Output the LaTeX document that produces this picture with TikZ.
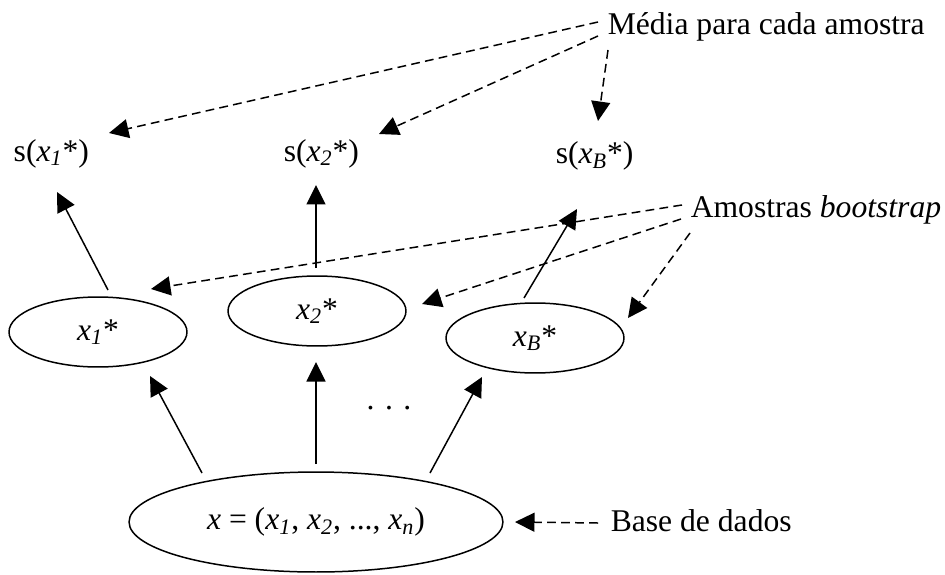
\documentclass[tikz,border=0pt]{standalone}
\usepackage{fontspec}
\setmainfont{Liberation Serif}
\usetikzlibrary{positioning}
\usetikzlibrary{calc, shapes.geometric}
\usetikzlibrary{arrows.meta}

\newcommand{\xsub}[1]{\textit{x}\textsubscript{\textit{#1}}}

\begin{document}
\begin{tikzpicture}[
        x = 0.02cm, y = -0.02cm, % one unit per pixel, y going down
        > = {Triangle[length=0.39cm, width=0.38cm]}, % arrow head style
        line width = 0.85pt, % line style
        font = \fontsize{18}{22}\selectfont,
        every node/.style = {inner sep=0pt},
        sample/.style = {draw, ellipse, minimum width=3.56cm, minimum height=1.4cm},
        hint/.style = {->, dash pattern=on 5pt off 3pt}
        ]

  \useasboundingbox (0,0) rectangle (945,574);

  \node[sample, minimum width=7.48cm, minimum height=2cm] (base) at (316,522) {\textit{x} = (\xsub{1}, \xsub{2}, ..., \xsub{n})};
  \node[sample] (x1) at (98,332) {\xsub{1}*};
  \node[sample] (x2) at (317,311) {\xsub{2}*};
  \node[sample] (xB) at (535,338) {\xsub{B}*};
  \node (dots) at (389,408) {. . .};

  \node[anchor=base west] (s1) at (13,161) {s(\xsub{1}*)};
  \node[anchor=base west] (s2) at (283,161) {s(\xsub{2}*)};
  \node[anchor=base west] (sB) at (555,164) {s(\xsub{B}*)};

  \node[anchor=base west] (media) at (607,35) {Média para cada amostra};
  \node[anchor=base west] (amostras) at (690,217) {Amostras \textit{bootstrap}};
  \node[anchor=base west] (dados) at (610,531) {Base de dados};

  % resampling
  \draw[->] ($(base)+(-114,-49)$) -- ($(x1)+(52,44)$);
  \draw[->] ($(base)+(0,-58)$) -- ($(x2)+(-1,51)$);
  \draw[->] ($(base)+(114,-49)$) -- ($(xB)+(-53,39)$);

  % statistic of each sample
  \draw[->] ($(x1)+(10,-42)$) -- ($(s1.base west)+(44,31)$);
  \draw[->] ($(x2)+(-1,-43)$) -- ($(s2.base west)+(33,24)$);
  \draw[->] ($(xB)+(-11,-40)$) -- ($(sB.base west)+(22,45)$);

  % labels
  \draw[hint] ($(media.base west)+(-9,-13)$) -- ($(s1.base west)+(96,-28)$);
  \draw[hint] ($(media.base west)+(-9,1)$) -- ($(s2.base west)+(96,-27)$);
  \draw[hint] ($(media.base west)+(1,15)$) -- ($(sB.base west)+(43,-43)$);

  \draw[hint] ($(amostras.base west)+(-8,-12)$) -- ($(x1)+(53,-43)$);
  \draw[hint] ($(amostras.base west)+(-9,2)$) -- ($(x2)+(105,-7)$);
  \draw[hint] ($(amostras.base west)+(0,16)$) -- ($(xB)+(93,-20)$);

  \draw[hint] ($(dados.base west)+(-12,-8)$) -- ($(base)+(199,0)$);

\end{tikzpicture}
\end{document}
